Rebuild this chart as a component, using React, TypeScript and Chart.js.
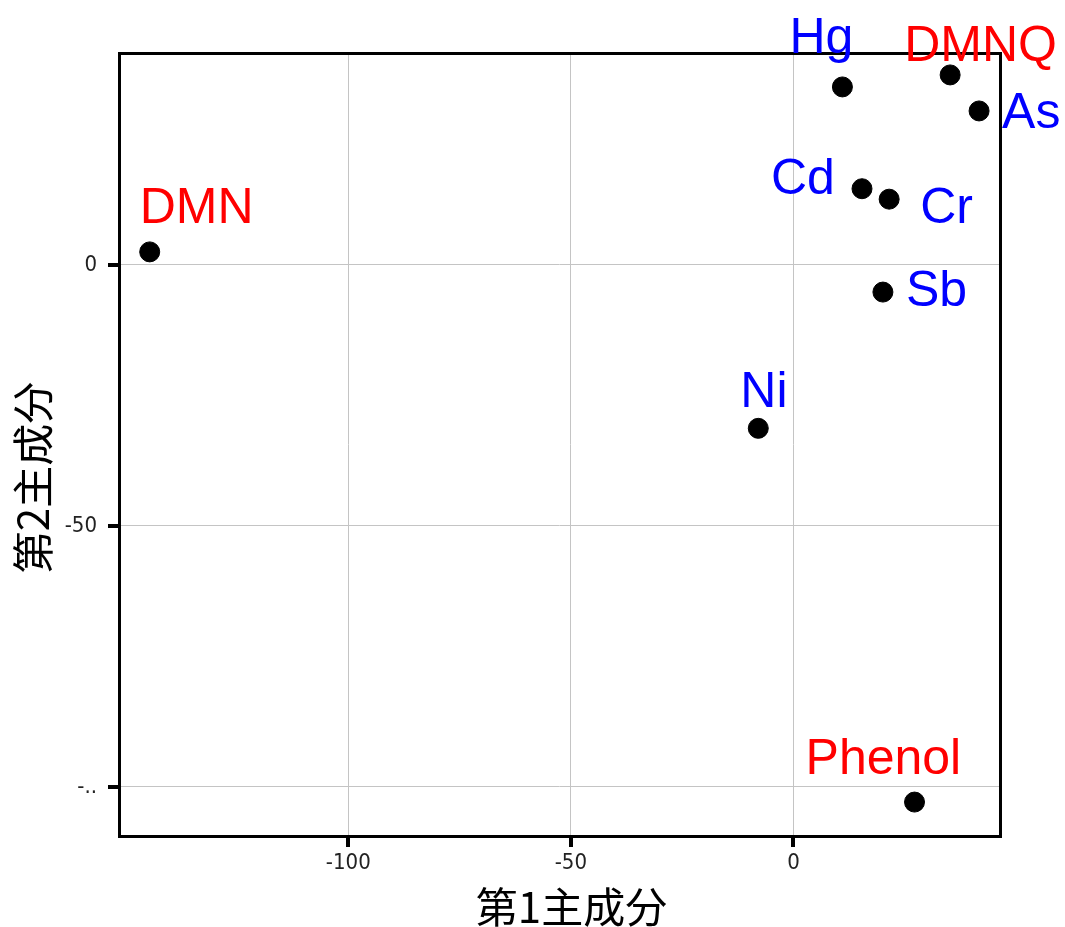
import React, { useEffect, useRef } from "react";
import { Chart, registerables } from "chart.js";

Chart.register(...registerables);

const names = ["DMN", "Hg", "DMNQ", "As", "Cd", "Cr", "Sb", "Ni", "Phenol"];
const pc1 = [-144.6, 11.0, 35.2, 41.7, 15.4, 21.5, 20.1, -7.9, 27.2];
const pc2 = [2.5, 34.1, 36.4, 29.5, 14.6, 12.6, -5.2, -31.3, -102.9];
const labelColors = ["#ff0000", "#0000ff", "#ff0000", "#0000ff", "#0000ff", "#0000ff", "#0000ff", "#0000ff", "#ff0000"];
const xTicks = [-100, -50, 0];
const yTicks = [-100, -50, 0];
const yTickLabels: Record<string, string> = { "-100": "-..", "-50": "-50", "0": "0" };
const xTitle = "第1主成分";
const yTitle = "第2主成分";

// label placement (style): offset of text left edge / baseline from point
const labelOffsets: [number, number][] = [
  [-10, -29],
  [-53, -34],
  [-46, -14],
  [23, 17],
  [-91, 5],
  [31, 24],
  [23, 14],
  [-18, -21],
  [-109, -28],
];

const labelPlugin = {
  id: "pointLabels",
  afterDraw(chart: any) {
    const { ctx, chartArea } = chart;
    const L = Math.round(chartArea.left);
    const R = Math.round(chartArea.right);
    const T = Math.round(chartArea.top);
    const B = Math.round(chartArea.bottom);
    ctx.save();
    ctx.fillStyle = "#000";
    // frame
    ctx.fillRect(L - 1, T - 1, R - L + 3, 3);
    ctx.fillRect(L - 1, B - 1, R - L + 3, 3);
    ctx.fillRect(L - 1, T - 1, 3, B - T + 3);
    ctx.fillRect(R - 1, T - 1, 3, B - T + 3);
    // tick marks
    const xs = chart.scales.x;
    const ys = chart.scales.y;
    for (const v of xTicks) {
      const px = Math.round(xs.getPixelForValue(v));
      ctx.fillRect(px - 2, B + 1, 4, 10);
    }
    for (const v of yTicks) {
      const py = Math.round(ys.getPixelForValue(v));
      ctx.fillRect(L - 11, py - 2, 10, 4);
    }

    const meta = chart.getDatasetMeta(0);
    ctx.font = "50px 'Liberation Sans', Arial, sans-serif";
    ctx.textAlign = "left";
    ctx.textBaseline = "alphabetic";
    meta.data.forEach((pt: any, i: number) => {
      ctx.fillStyle = labelColors[i];
      ctx.fillText(names[i], pt.x + labelOffsets[i][0], pt.y + labelOffsets[i][1]);
    });
    // axis titles
    ctx.fillStyle = "#000";
    ctx.font = "42px 'Noto Sans CJK JP', sans-serif";
    ctx.textAlign = "center";
    ctx.textBaseline = "middle";
    ctx.fillText(xTitle, (chartArea.left + chartArea.right) / 2 + 12, 907);
    ctx.save();
    ctx.translate(33, (chartArea.top + chartArea.bottom) / 2 + 33);
    ctx.rotate(-Math.PI / 2);
    ctx.fillText(yTitle, 0, 0);
    ctx.restore();
    ctx.restore();
  },
};

export default function App() {
  const ref = useRef<HTMLCanvasElement>(null);
  useEffect(() => {
    document.body.style.margin = "0";
    const tickFont = { family: "'Liberation Sans Narrow', 'DejaVu Sans Condensed', sans-serif", size: 22 };
    const chart = new Chart(ref.current!, {
      type: "scatter",
      data: {
        datasets: [
          {
            data: pc1.map((x, i) => ({ x, y: pc2[i] })),
            backgroundColor: "#000",
            borderColor: "#000",
            pointRadius: 10,
            pointHoverRadius: 10,
          },
        ],
      },
      options: {
        responsive: false,
        animation: false,
        layout: { padding: { top: 53, right: 65, left: 0, bottom: 0 } },
        plugins: { legend: { display: false }, tooltip: { enabled: false } },
        scales: {
          x: {
            type: "linear",
            min: -151.5,
            max: 46.4,
            afterBuildTicks: (s: any) => {
              s.ticks = xTicks.map((v) => ({ value: v }));
            },
            afterFit: (s: any) => {
              s.height = 91;
            },
            grid: { color: "#c4c4c4", lineWidth: 1, drawTicks: true, tickLength: 10, tickColor: "rgba(0,0,0,0)" },
            border: { display: false },
            ticks: { color: "#222", font: tickFont, padding: 4, maxRotation: 0 },
          },
          y: {
            type: "linear",
            min: -109.4,
            max: 40.6,
            afterBuildTicks: (s: any) => {
              s.ticks = yTicks.map((v) => ({ value: v }));
            },
            afterFit: (s: any) => {
              s.width = 119;
            },
            grid: { color: "#c4c4c4", lineWidth: 1, drawTicks: true, tickLength: 10, tickColor: "rgba(0,0,0,0)" },
            border: { display: false },
            ticks: {
              color: "#222",
              font: tickFont,
              padding: 12,
              callback: (v: any) => yTickLabels[String(v)] ?? String(v),
            },
          },
        },
      },
      plugins: [labelPlugin],
    });
    return () => chart.destroy();
  }, []);
  return (
    <div style={{ width: 1065, height: 927 }}>
      <canvas ref={ref} width={1065} height={927} style={{ display: "block" }} />
    </div>
  );
}
